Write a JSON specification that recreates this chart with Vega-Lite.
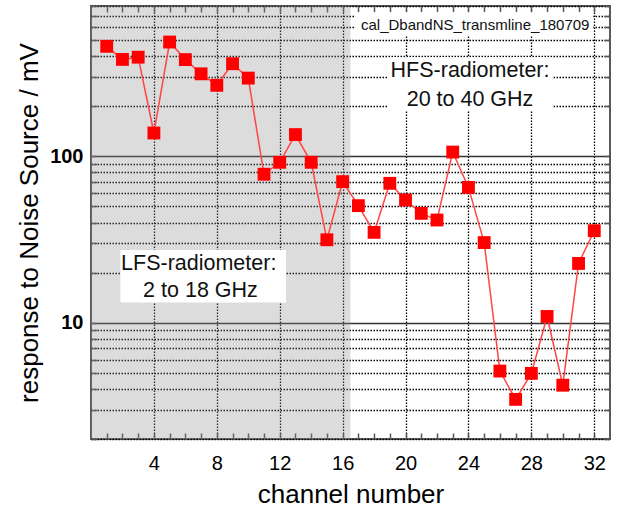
{
  "$schema": "https://vega.github.io/schema/vega-lite/v6.json",
  "width": 519,
  "height": 433,
  "autosize": "none",
  "padding": {"left": 91, "top": 6, "right": 8, "bottom": 69},
  "background": "white",
  "config": {
    "view": {"stroke": "#5a5a5a", "strokeWidth": 2},
    "font": "Liberation Sans"
  },
  "datasets": {
    "points": [
      {"channel": 1, "mV": 458}, {"channel": 2, "mV": 382}, {"channel": 3, "mV": 394}, {"channel": 4, "mV": 138},
      {"channel": 5, "mV": 486}, {"channel": 6, "mV": 381}, {"channel": 7, "mV": 313}, {"channel": 8, "mV": 267},
      {"channel": 9, "mV": 360}, {"channel": 10, "mV": 295}, {"channel": 11, "mV": 78}, {"channel": 12, "mV": 92},
      {"channel": 13, "mV": 135}, {"channel": 14, "mV": 92}, {"channel": 15, "mV": 31.5}, {"channel": 16, "mV": 70.4},
      {"channel": 17, "mV": 50.5}, {"channel": 18, "mV": 34.9}, {"channel": 19, "mV": 68.8}, {"channel": 20, "mV": 54.6},
      {"channel": 21, "mV": 45.4}, {"channel": 22, "mV": 41.4}, {"channel": 23, "mV": 106}, {"channel": 24, "mV": 65},
      {"channel": 25, "mV": 30.3}, {"channel": 26, "mV": 5.12}, {"channel": 27, "mV": 3.46}, {"channel": 28, "mV": 4.96},
      {"channel": 29, "mV": 10.9}, {"channel": 30, "mV": 4.21}, {"channel": 31, "mV": 22.7}, {"channel": 32, "mV": 35.7}
    ],
    "regions": [{"start": 0, "end": 16.5}],
    "boxes": [
      {"x0": 1.87, "x1": 12.4, "y0": 13.2, "y1": 27.3},
      {"x0": 18.85, "x1": 29.4, "y0": 188.6, "y1": 393},
      {"x0": 16.8, "x1": 31.94, "y0": 533, "y1": 734}
    ],
    "tag": [{"x": 24.43, "y": 612, "text": "cal_DbandNS_transmline_180709"}],
    "labels": [
      {"x": 24.1, "y": 325, "text": "HFS-radiometer:"},
      {"x": 24.1, "y": 218.7, "text": "20 to 40 GHz"},
      {"x": 6.85, "y": 22.5, "text": "LFS-radiometer:"},
      {"x": 6.96, "y": 15.5, "text": "2 to 18 GHz"}
    ]
  },
  "resolve": {"axis": {"x": "independent", "y": "independent"}},
  "layer": [
    {
      "data": {"name": "regions"},
      "mark": {"type": "rect", "fill": "#8a8c8c", "opacity": 0.3},
      "encoding": {
        "x": {"field": "start", "type": "quantitative", "scale": {"domain": [0, 33], "nice": false, "zero": false}, "axis": null},
        "x2": {"field": "end"}
      }
    },
    {
      "data": {"name": "boxes"},
      "mark": {"type": "rect", "fill": "white"},
      "encoding": {
        "x": {"field": "x0", "type": "quantitative", "scale": {"domain": [0, 33], "nice": false, "zero": false}, "axis": null},
        "x2": {"field": "x1"},
        "y": {"field": "y0", "type": "quantitative", "scale": {"type": "log", "domain": [2, 800], "nice": false}, "axis": null},
        "y2": {"field": "y1"}
      }
    },
    {
      "data": {"name": "points"},
      "mark": {"type": "line", "color": "#ff4545", "strokeWidth": 1.5},
      "encoding": {
        "x": {
          "field": "channel", "type": "quantitative",
          "scale": {"domain": [0, 33], "nice": false, "zero": false},
          "axis": {
            "orient": "bottom",
            "values": [1,2,3,4,5,6,7,8,9,10,11,12,13,14,15,16,17,18,19,20,21,22,23,24,25,26,27,28,29,30,31,32],
            "format": "d",
            "labelExpr": "datum.value % 4 == 0 ? datum.label : ''",
            "labelOverlap": false,
            "labelFlush": false,
            "labelFontSize": 20,
            "labelColor": "black",
            "labelPadding": 20,
            "tickSize": -6,
            "tickColor": "#555",
            "tickWidth": 1.5,
            "domain": false,
            "grid": true,
            "gridColor": {"condition": {"test": "datum.value % 4 == 0", "value": "#000"}, "value": "transparent"},
            "gridDash": [1.5, 1.5],
            "gridWidth": 1.3,
            "title": "channel number",
            "titleFontSize": 26,
            "titleFontWeight": "normal",
            "titleColor": "black",
            "titlePadding": 8
          }
        },
        "y": {
          "field": "mV", "type": "quantitative",
          "scale": {"type": "log", "domain": [2, 800], "nice": false},
          "axis": {
            "orient": "left",
            "values": [2,3,4,5,6,7,8,9,10,20,30,40,50,60,70,80,90,100,200,300,400,500,600,700,800],
            "format": "d",
            "labelExpr": "datum.value == 10 || datum.value == 100 ? datum.label : ''",
            "labelOverlap": false,
            "labelFontSize": 20,
            "labelFontWeight": "bold",
            "labelColor": "black",
            "labelPadding": 14,
            "tickSize": -6,
            "tickColor": "#555",
            "tickWidth": 1.5,
            "domain": false,
            "grid": true,
            "gridColor": {"condition": {"test": "datum.value == 10 || datum.value == 100", "value": "#333"}, "value": "#000"},
            "gridDash": {"condition": {"test": "datum.value == 10 || datum.value == 100", "value": [1, 0]}, "value": [1.5, 1.5]},
            "gridWidth": {"condition": {"test": "datum.value == 10 || datum.value == 100", "value": 1.6}, "value": 1.3},
            "title": "response to Noise Source / mV",
            "titleFontSize": 26,
            "titleFontWeight": "normal",
            "titleColor": "black",
            "titlePadding": 7
          }
        }
      }
    },
    {
      "data": {"name": "points"},
      "mark": {"type": "point", "shape": "square", "filled": true, "size": 165, "color": "#ff0000", "opacity": 1},
      "encoding": {
        "x": {
          "field": "channel", "type": "quantitative",
          "scale": {"domain": [0, 33], "nice": false, "zero": false},
          "axis": {
            "orient": "top",
            "values": [1,2,3,4,5,6,7,8,9,10,11,12,13,14,15,16,17,18,19,20,21,22,23,24,25,26,27,28,29,30,31,32],
            "labels": false, "grid": false, "domain": false,
            "tickSize": -6, "tickColor": "#555", "tickWidth": 1.5, "title": null
          }
        },
        "y": {
          "field": "mV", "type": "quantitative",
          "scale": {"type": "log", "domain": [2, 800], "nice": false},
          "axis": {
            "orient": "right",
            "values": [2,3,4,5,6,7,8,9,10,20,30,40,50,60,70,80,90,100,200,300,400,500,600,700,800],
            "labels": false, "grid": false, "domain": false,
            "tickSize": -6, "tickColor": "#555", "tickWidth": 1.5, "title": null
          }
        }
      }
    },
    {
      "data": {"name": "tag"},
      "mark": {"type": "text", "fontSize": 15, "color": "#111", "align": "center", "baseline": "middle"},
      "encoding": {
        "x": {"field": "x", "type": "quantitative", "scale": {"domain": [0, 33], "nice": false, "zero": false}, "axis": null},
        "y": {"field": "y", "type": "quantitative", "scale": {"type": "log", "domain": [2, 800], "nice": false}, "axis": null},
        "text": {"field": "text"}
      }
    },
    {
      "data": {"name": "labels"},
      "mark": {"type": "text", "fontSize": 21.5, "color": "#111", "align": "center", "baseline": "middle"},
      "encoding": {
        "x": {"field": "x", "type": "quantitative", "scale": {"domain": [0, 33], "nice": false, "zero": false}, "axis": null},
        "y": {"field": "y", "type": "quantitative", "scale": {"type": "log", "domain": [2, 800], "nice": false}, "axis": null},
        "text": {"field": "text"}
      }
    }
  ]
}
